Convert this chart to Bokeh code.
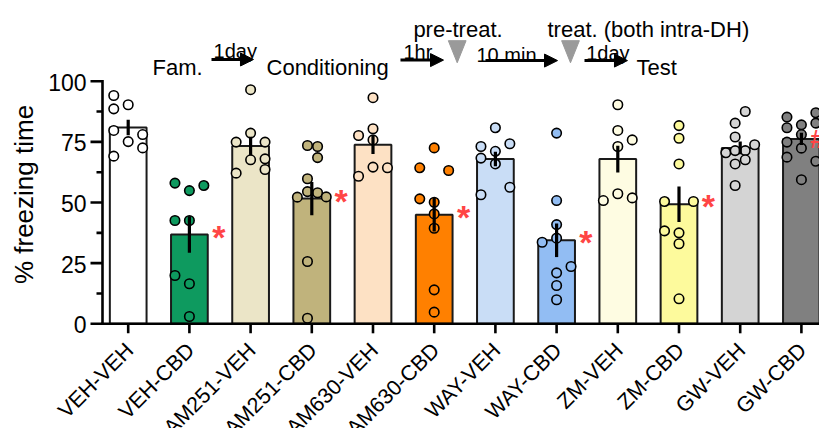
import math
from bokeh.plotting import figure
from bokeh.models import ColumnDataSource, Range1d, Arrow, NormalHead
from bokeh.core.properties import value
from bokeh.embed import file_html
from bokeh.resources import INLINE

# ---------------- data ----------------
groups = ["VEH-VEH", "VEH-CBD", "AM251-VEH", "AM251-CBD", "AM630-VEH", "AM630-CBD",
          "WAY-VEH", "WAY-CBD", "ZM-VEH", "ZM-CBD", "GW-VEH", "GW-CBD"]
means = [80.9, 36.8, 73.3, 51.6, 73.8, 45.0, 67.9, 34.4, 67.9, 49.3, 72.5, 76.2]
sems = [3.2, 7.5, 3.8, 6.9, 3.8, 7.0, 3.0, 6.9, 5.5, 7.3, 2.6, 2.5]
marks = ["", "*", "", "*", "", "*", "", "*", "", "*", "", "#"]
y_ticks = [0, 25, 50, 75, 100]
y_minor = [12.5, 37.5, 62.5, 87.5]
y_tick_labels = ["0", "25", "50", "75", "100"]

veh_veh = [94.1, 88.6, 90.3, 79.7, 75.1, 78.0, 72.5, 69.1]
veh_cbd = [58.0, 54.9, 57.0, 42.6, 42.6, 19.9, 16.5, 3.0]
am251_veh = [96.5, 78.6, 74.9, 74.9, 67.6, 68.0, 62.1, 63.6]
am251_cbd = [73.5, 73.1, 68.5, 59.8, 54.5, 52.2, 54.0, 52.3, 25.7, 2.3]
am630_veh = [93.2, 77.6, 80.4, 75.8, 64.6, 64.3, 60.8]
am630_cbd = [72.5, 64.3, 63.2, 51.5, 50.1, 45.3, 39.4, 14.0, 4.8]
way_veh = [80.8, 73.1, 74.2, 71.1, 68.3, 65.9, 56.3, 53.2]
way_cbd = [78.6, 50.8, 40.9, 35.3, 33.6, 23.6, 21.0, 15.8, 9.9]
zm_veh = [90.3, 79.7, 75.8, 73.1, 53.6, 50.8, 51.9]
zm_cbd = [81.7, 76.5, 65.9, 50.4, 50.4, 38.3, 37.5, 33.0, 10.3]
gw_veh = [87.5, 82.7, 77.0, 73.8, 70.5, 71.4, 71.4, 67.6, 65.9, 57.0]
gw_cbd = [85.2, 87.0, 82.0, 80.8, 82.7, 78.0, 74.9, 72.4, 68.7, 67.0, 59.4]
points = [veh_veh, veh_cbd, am251_veh, am251_cbd, am630_veh, am630_cbd,
          way_veh, way_cbd, zm_veh, zm_cbd, gw_veh, gw_cbd]

# ---------------- layout / style (not data) ----------------
slots = [
    [-1, -1, 0, -1, 0, 1, 1, -1],
    [-1, 0, 1, -1, 0, -1, 0, 0],
    [0, 0, -1, 1, 0, 1, -1, 1],
    [-0.3, 0.4, 0.4, -0.3, -0.3, -1, 0.4, 1, -0.3, -0.3],
    [0, -1, 0, 0, 0, 1, -1],
    [0, -1, 1, -1, 0, 0, 0, 0, 0],
    [0, -1, 1, 0, -1, 0, 1, -1],
    [0, 0, 0, 0, -1, 1, 0, 0, 0],
    [0, 0, 1, 0, 0, -1, 1],
    [0, 0, 0, -1, 1, -1, 0, 0, 0],
    [0.35, -0.35, -0.35, 1, -1, -0.35, 0.35, 0.35, -0.35, -0.35],
    [-1, 1, 0, -1, 1, 0, -1, 0, -1, 1, 0],
]
SLOT_W = 0.236
colors = ["#ffffff", "#0e9a5f", "#ebe5c7", "#c0b37c", "#fde1c4", "#ff8000",
          "#c9ddf6", "#92bdf3", "#fefce2", "#fdfa9c", "#d4d4d4", "#808080"]
FONT = "Liberation Sans"
STAR_COLOR = "#ff4545"
AXW = 2.6

W, H = 819, 428
PXU = 2.426                    # vertical px per % unit
Y0 = 323.3                     # canvas y of 0 %
XPU = 61.2                     # horizontal px per category
X0 = 127.7                     # canvas x of first category
AX_X = (102 - X0) / XPU        # data x of the y-axis line
y_lo, y_hi = (Y0 - H) / PXU, Y0 / PXU
x_lo, x_hi = (0 - X0) / XPU, (W - X0) / XPU

p = figure(width=W, height=H, output_backend="svg", toolbar_location=None,
           x_range=Range1d(x_lo, x_hi), y_range=Range1d(y_lo, y_hi),
           x_axis_location=None, y_axis_location=None,
           min_border_left=0, min_border_right=0, min_border_top=0, min_border_bottom=0)
p.outline_line_color = None
p.xgrid.visible = False
p.ygrid.visible = False
p.background_fill_color = "white"

idx = list(range(len(groups)))
bar_src = ColumnDataSource(dict(x=idx, top=means, color=colors,
                                lo=[m - s for m, s in zip(means, sems)],
                                hi=[m + s for m, s in zip(means, sems)]))
p.vbar(x="x", top="top", width=0.6, bottom=0, fill_color="color", line_color="#1a1a1a",
       line_width=2, source=bar_src)

px, py, pc = [], [], []
for i, (vals, sl) in enumerate(zip(points, slots)):
    for v, s in zip(vals, sl):
        px.append(i + s * SLOT_W)
        py.append(v)
        pc.append(colors[i])
p.scatter(x=px, y=py, size=9.5, fill_color=pc, line_color="black", line_width=1.6)

p.segment(x0="x", y0="lo", x1="x", y1="hi", line_color="black", line_width=3.2, source=bar_src)

# ---------------- axes ----------------
# x axis at 0 %
p.segment(x0=[AX_X], y0=[0], x1=[x_hi], y1=[0], line_color="black", line_width=AXW,
          line_cap="square")
p.segment(x0=idx, y0=[0] * len(idx), x1=idx, y1=[-9.5 / PXU] * len(idx),
          line_color="black", line_width=AXW)
p.text(x=[i + 1.5 / XPU for i in idx], y=[-23.0 / PXU] * len(idx), text=groups,
       angle=math.pi / 4, text_align="right", text_baseline="middle",
       text_font=value(FONT), text_font_size="21.5px", text_color="black")
# y axis
p.segment(x0=[AX_X], y0=[0], x1=[AX_X], y1=[y_ticks[-1]], line_color="black",
          line_width=AXW, line_cap="square")
p.segment(x0=[AX_X] * len(y_ticks), y0=y_ticks, x1=[AX_X - 12 / XPU] * len(y_ticks),
          y1=y_ticks, line_color="black", line_width=AXW)
p.segment(x0=[AX_X] * len(y_minor), y0=y_minor, x1=[AX_X - 6 / XPU] * len(y_minor),
          y1=y_minor, line_color="black", line_width=AXW)
p.text(x=[AX_X - 16 / XPU] * len(y_ticks), y=y_ticks, text=y_tick_labels,
       text_align="right", text_baseline="middle", text_font=value(FONT),
       text_font_size="23px", text_color="black", y_offset=1)
p.text(x=[(23 - X0) / XPU], y=[(Y0 - 194) / PXU], text=["% freezing time"],
       angle=math.pi / 2, text_align="center", text_baseline="middle",
       text_font=value(FONT), text_font_size="26px", text_color="black")

# significance marks
sx, sy, st = [], [], []
for i, m in enumerate(marks):
    if m == "*":
        sx.append(i + 0.48); sy.append(means[i]); st.append(m)
p.text(x=sx, y=sy, text=st, text_color=STAR_COLOR, text_font=value(FONT),
       text_font_size="34px", text_font_style="bold", text_align="center",
       text_baseline="alphabetic", y_offset=2)
hx = [i + (817 - X0) / XPU - 11 for i, m in enumerate(marks) if m == "#"]
hy = [means[i] for i, m in enumerate(marks) if m == "#"]
p.text(x=hx, y=hy, text=["#"] * len(hx), text_color=STAR_COLOR, text_font=value(FONT),
       text_font_size="26px", text_font_style="bold", text_align="center",
       text_baseline="middle")

# ---------------- protocol header ----------------
big = [("Fam.", 0.397, 105.85, "left"), ("Conditioning", 2.26, 105.85, "left"),
       ("Test", 8.306, 105.65, "left"), ("pre-treat.", 5.389, 121.5, "center"),
       ("treat. (both intra-DH)", 6.851, 121.5, "left")]
for t, x, y, a in big:
    p.text(x=[x], y=[y], text=[t], text_font=value(FONT), text_font_size="22px",
           text_align=a, text_baseline="alphabetic", text_color="black")
small = [("1day", 1.394, 112.45), ("1hr", 4.498, 112.0), ("10 min", 5.691, 110.6),
         ("1day", 7.484, 111.8)]
for t, x, y in small:
    p.text(x=[x], y=[y], text=[t], text_font=value(FONT), text_font_size="20px",
           text_align="left", text_baseline="alphabetic", text_color="black")
for xa, xb, y in [(1.361, 2.047, 108.95), (4.449, 5.152, 108.7),
                  (5.838, 7.015, 108.5), (7.456, 8.158, 108.5)]:
    p.add_layout(Arrow(end=NormalHead(size=13, fill_color="black", line_color="black"),
                       x_start=xa, y_start=y, x_end=xb, y_end=y,
                       line_width=3, line_color="black"))
for cx in (5.376, 7.227):
    p.patch(x=[cx - 0.145, cx + 0.145, cx], y=[116.7, 116.7, 107.6],
            fill_color="#9a9a9a", line_color="#9a9a9a", line_width=1)

open("out.html", "w").write(file_html(p, INLINE))
